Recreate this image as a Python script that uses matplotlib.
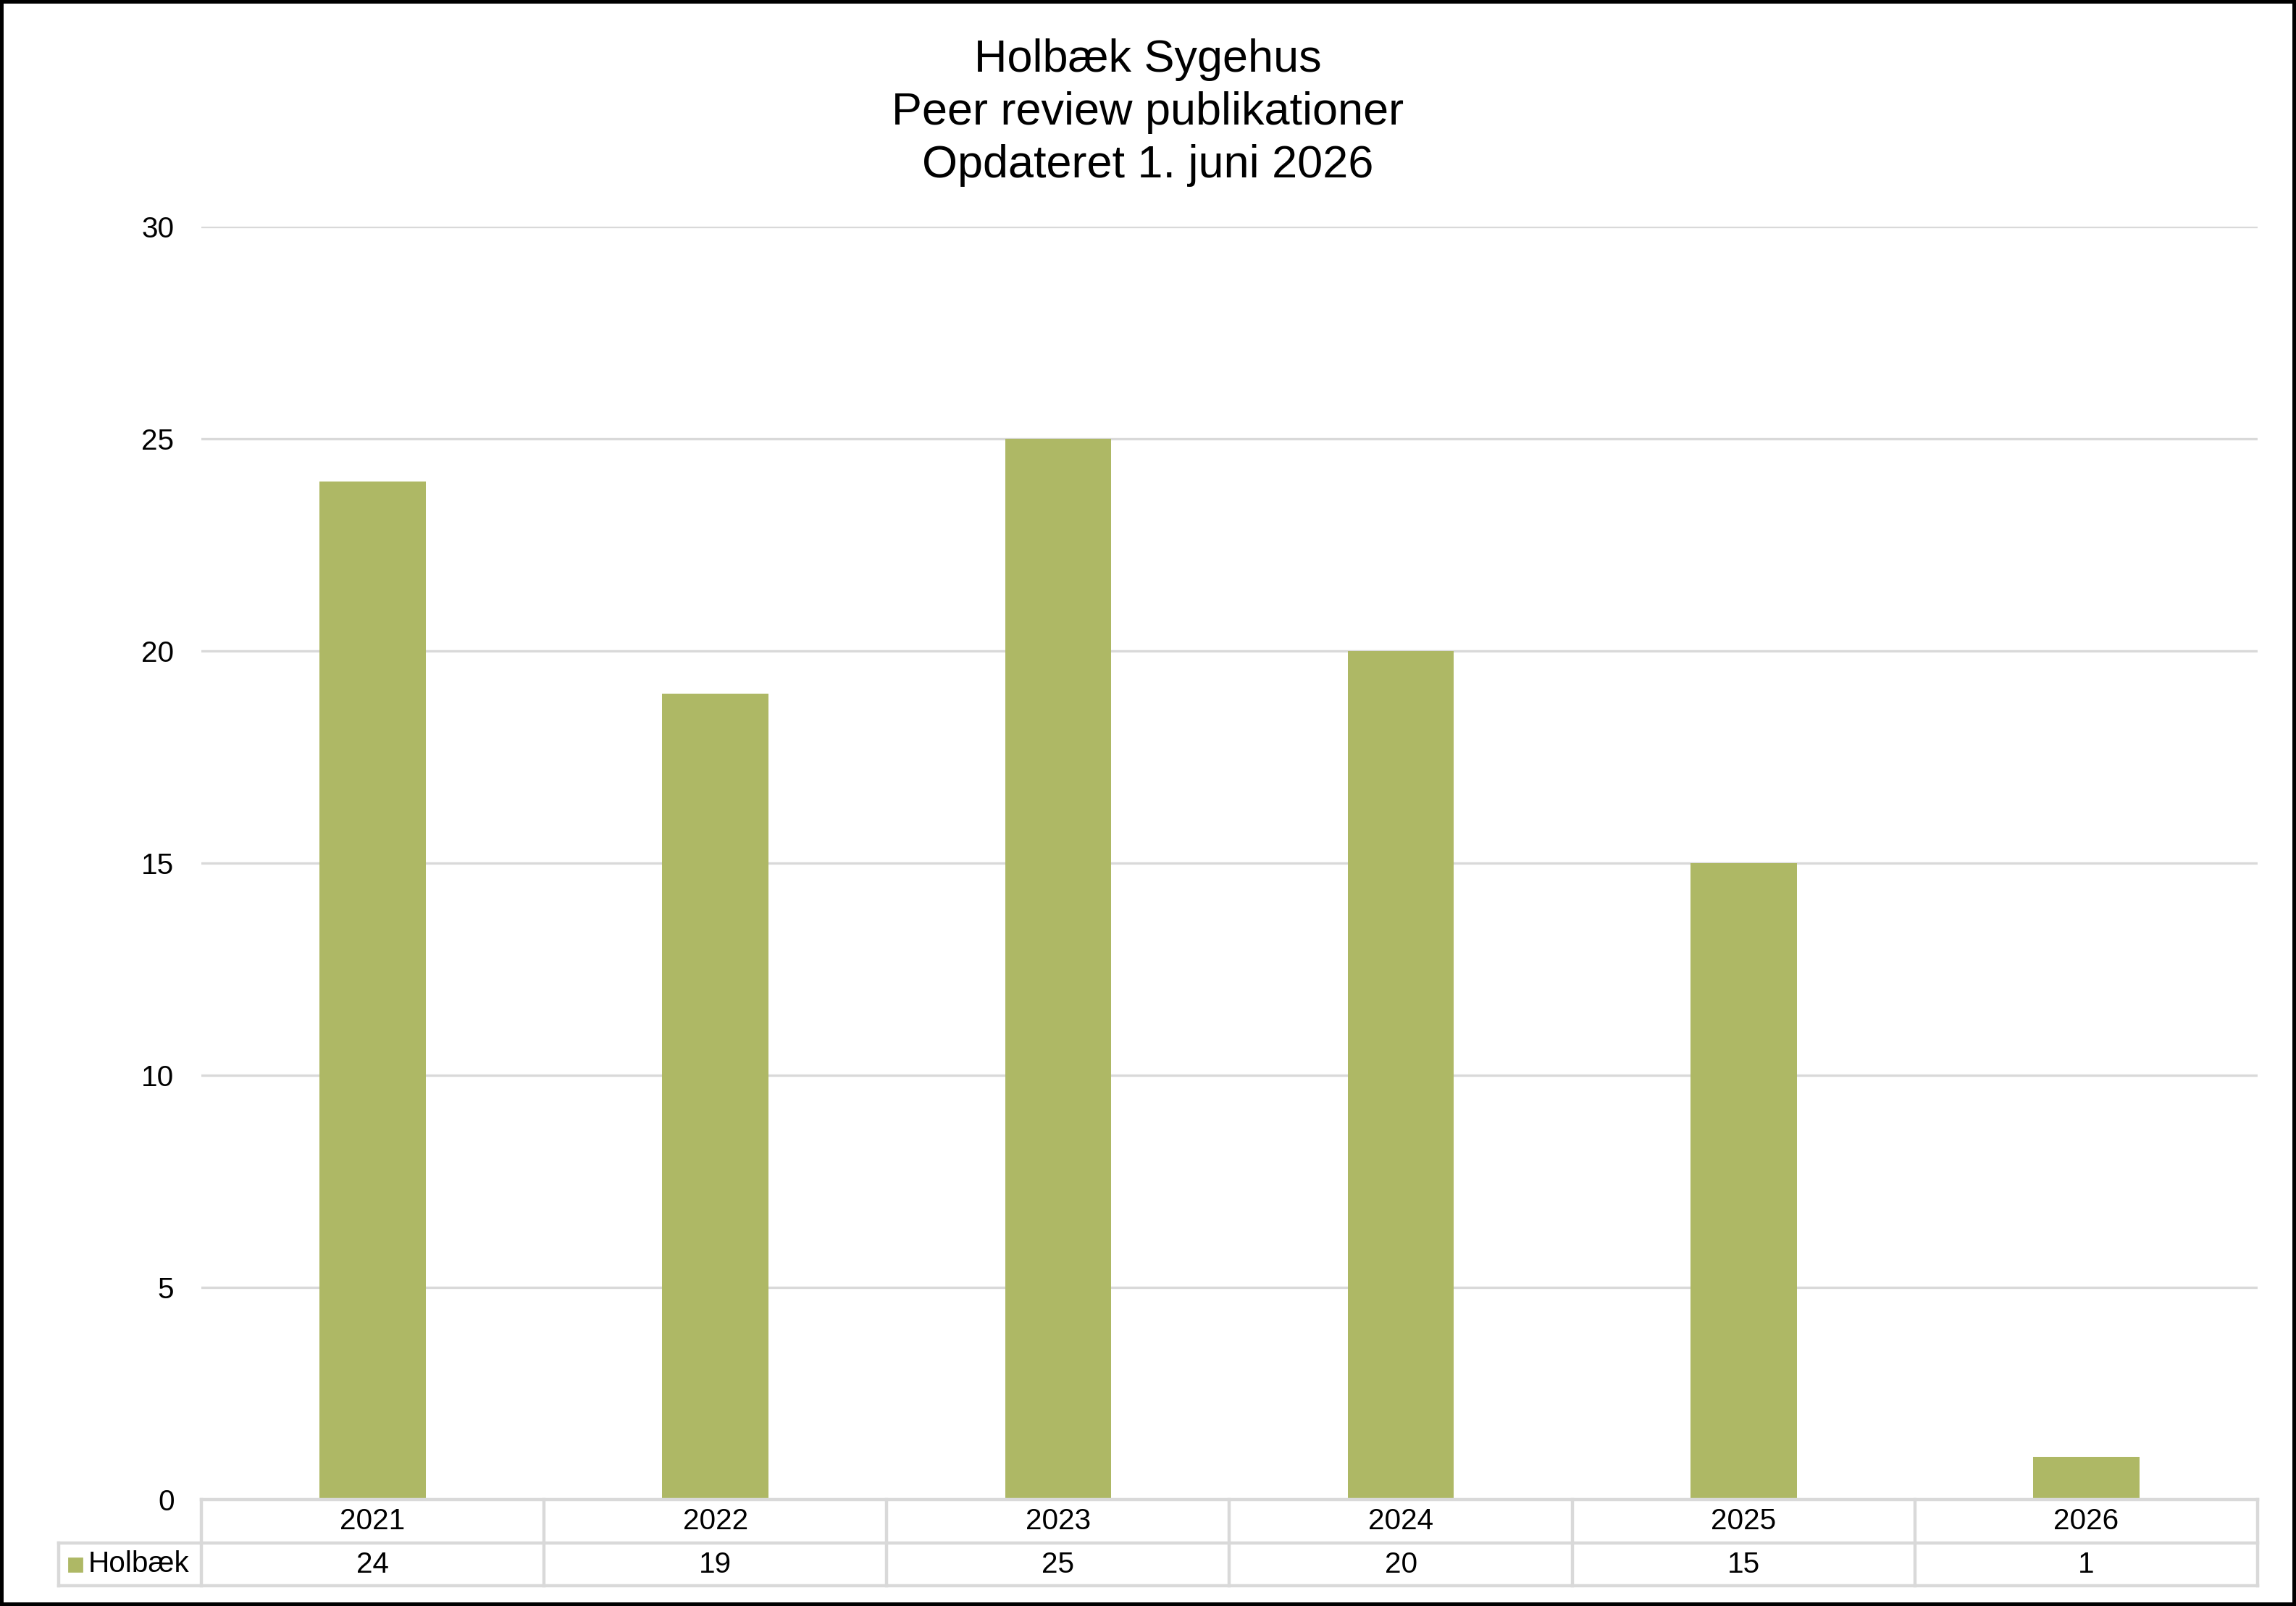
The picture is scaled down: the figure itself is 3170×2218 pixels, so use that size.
import matplotlib.pyplot as plt
from matplotlib.patches import Rectangle
from matplotlib.transforms import blended_transform_factory

# Data
years = ['2021', '2022', '2023', '2024', '2025', '2026']
holbaek = [24, 19, 25, 20, 15, 1]
series_name = 'Holbæk'
title_lines = ['Holbæk Sygehus', 'Peer review publikationer', 'Opdateret 1. juni 2026']

bar_color = '#AEB865'
line_color = '#D9D9D9'

plt.rcParams['font.family'] = ['Liberation Sans', 'DejaVu Sans']

W, H = 3170, 2218
fig = plt.figure(figsize=(W / 200, H / 200), dpi=200)

# plot area in pixels
left, right, top, bottom = 278, 3117, 313, 2071
ax = fig.add_axes([left / W, 1 - bottom / H, (right - left) / W, (bottom - top) / H])

x = list(range(len(years)))
ax.bar(x, holbaek, width=0.31, color=bar_color, zorder=3)

ax.set_xlim(-0.5, len(years) - 0.5)
ax.set_ylim(0, 30)
ax.set_yticks(range(0, 31, 5))
ax.set_xticks([])
ax.tick_params(axis='y', length=0, pad=13.5, labelsize=14.6)
ax.grid(axis='y', color=line_color, linewidth=1.2, zorder=0)
for s in ax.spines.values():
    s.set_visible(False)

# Data table below the plot
plot_h = bottom - top
row1 = -60 / plot_h
row2 = -119 / plot_h
legend_left = (81 - left) / (right - left)
tr = blended_transform_factory(ax.transData, ax.transAxes)
lw = 1.6

ax.plot([0, 1], [0, 0], transform=ax.transAxes, color=line_color, lw=lw, clip_on=False, zorder=4)
ax.plot([legend_left, 1], [row1, row1], transform=ax.transAxes, color=line_color, lw=lw, clip_on=False)
ax.plot([legend_left, 1], [row2, row2], transform=ax.transAxes, color=line_color, lw=lw, clip_on=False)
ax.plot([legend_left, legend_left], [row1, row2], transform=ax.transAxes, color=line_color, lw=lw, clip_on=False)
for i in range(len(years) + 1):
    ax.plot([i - 0.5, i - 0.5], [0, row2], transform=tr, color=line_color, lw=lw, clip_on=False)

for i, (yr, v) in enumerate(zip(years, holbaek)):
    ax.text(i, row1 / 2, yr, transform=tr, ha='center', va='center', fontsize=14.6)
    ax.text(i, (row1 + row2) / 2, str(v), transform=tr, ha='center', va='center', fontsize=14.6)

# legend key in table
fig.patches.append(Rectangle((95 / W, 1 - 2170 / H), 18 / W, 18 / H, transform=fig.transFigure,
                             color=bar_color, zorder=5))
fig.text(122 / W, 1 - 2160 / H, series_name, ha='left', va='center', fontsize=14.6)

# Title
for ypix, line in zip([99, 172, 245], title_lines):
    fig.text(0.5, 1 - ypix / H, line, ha='center', va='baseline', fontsize=22.7)

# outer border
fig.patches.append(Rectangle((0, 0), 1, 1, transform=fig.transFigure, fill=False,
                             edgecolor='black', linewidth=3.6, zorder=10))

fig.savefig('out.png', dpi=200)
